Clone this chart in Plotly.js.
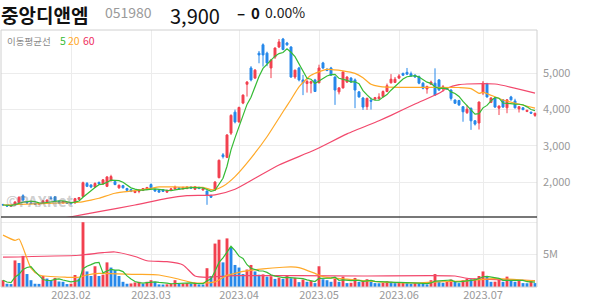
<!DOCTYPE html>
<html><head><meta charset="utf-8">
<script src="https://cdn.plot.ly/plotly-3.0.1.min.js"></script>
<style>html,body{margin:0;padding:0;background:#fff;}#chart{width:594px;height:304px;}</style>
</head><body><div id="chart"></div>
<script>
// trading days (MM/DD, 2023)
const dates = [
'01/05','01/06','01/09','01/10','01/11','01/12','01/13','01/16','01/17','01/18','01/19','01/20','01/25','01/26','01/27','01/30','01/31',
'02/01','02/02','02/03','02/06','02/07','02/08','02/09','02/10','02/13','02/14','02/15','02/16','02/17','02/20','02/21','02/22','02/23','02/24','02/27','02/28',
'03/02','03/03','03/06','03/07','03/08','03/09','03/10','03/13','03/14','03/15','03/16','03/17','03/20','03/21','03/22','03/23','03/24','03/27','03/28','03/29','03/30','03/31',
'04/03','04/04','04/05','04/06','04/07','04/10','04/11','04/12','04/13','04/14','04/17','04/18','04/19','04/20','04/21','04/24','04/25','04/26','04/27','04/28',
'05/02','05/03','05/04','05/08','05/09','05/10','05/11','05/12','05/15','05/16','05/17','05/18','05/19','05/22','05/23','05/24','05/25','05/26','05/30','05/31',
'06/01','06/02','06/05','06/07','06/08','06/09','06/12','06/13','06/14','06/15','06/16','06/19','06/20','06/21','06/22','06/23','06/26','06/27','06/28','06/29','06/30',
'07/03','07/04','07/05','07/06','07/07','07/10','07/11','07/12','07/13','07/14','07/17','07/18','07/19','07/20'];

const openP = [1380,1360,1335,1365,1430,1620,1440,1420,1410,1390,1420,1450,1560,1590,1460,1420,1430,
1420,1420,1520,1600,1960,1920,1860,1990,1950,1880,2040,2010,1840,1900,1820,1790,1710,1740,1770,1790,
1930,1790,1770,1790,1720,1770,1810,1840,1810,1820,1860,1800,1850,1780,1750,1620,1780,2120,2750,2680,3350,3930,
3660,4180,4700,5150,4870,5560,5790,5560,5150,5450,5730,5950,5840,5730,4900,5150,4820,4720,4730,4820,
4740,5290,5110,5150,4900,4490,4600,4760,4870,4820,4490,4320,4080,4260,4290,4300,4360,4500,4740,4750,
4870,5000,5030,4990,4950,4910,4730,4570,4700,4730,4820,4570,4600,4540,4265,4250,4080,3915,4035,3690,3630,
4460,4710,4200,4320,4040,4270,4050,4350,4240,4020,4050,3950,3930,3840];
const highP = [1395,1370,1360,1460,1600,1660,1460,1440,1420,1420,1490,1520,1610,1600,1480,1470,1440,
1430,1560,1580,2010,2000,1930,1990,2010,2080,2160,2200,2040,1930,1920,1840,1800,1770,1790,1830,1860,
1960,1810,1780,1800,1780,1830,1900,1860,1870,1880,1880,1890,1870,1830,1770,1650,2020,2620,2800,3320,3870,4000,
4080,4420,4790,5200,5120,5620,5830,5600,5400,5720,5950,5980,5870,5750,5100,5180,4960,4840,4800,4850,
5240,5320,5150,5180,4920,4620,5050,4920,4900,4860,4510,4350,4330,4330,4350,4450,4530,4720,4980,4900,
4980,5020,5150,5050,4980,4940,4760,4660,4800,5140,4840,4680,4620,4560,4280,4270,4100,4130,4060,3710,4220,
4790,4740,4340,4340,4110,4290,4290,4380,4300,4090,4070,3990,3940,3910];
const lowP = [1355,1320,1320,1355,1420,1470,1400,1390,1370,1380,1410,1440,1520,1440,1400,1410,1400,
1390,1410,1500,1590,1860,1830,1840,1930,1930,1860,2010,1910,1810,1820,1750,1720,1690,1690,1750,1780,
1820,1730,1710,1730,1700,1750,1790,1800,1800,1800,1820,1780,1800,1760,1370,1560,1760,2100,2650,2660,3300,3620,
3640,4150,4360,4780,4850,5280,5190,5200,4870,5400,5700,5640,5760,4880,4850,4780,4400,4470,4450,4490,
4730,5120,5060,4930,4130,4420,4580,4740,4740,4040,4330,3990,3990,4000,4260,4280,4340,4480,4720,4740,
4850,4930,4960,4910,4880,4700,4560,4440,4680,4380,4520,4500,4550,4250,4160,4100,3665,3880,3440,3560,3450,
4400,4330,4180,4050,3850,4050,3900,4250,4030,3920,3980,3930,3880,3800];
const closeP = [1365,1335,1345,1450,1580,1500,1420,1405,1385,1410,1480,1500,1540,1460,1420,1460,1410,
1400,1540,1570,1980,1880,1860,1960,1950,2060,2140,2150,1930,1910,1840,1770,1740,1760,1780,1820,1850,
1840,1750,1720,1740,1770,1810,1860,1810,1850,1860,1830,1870,1820,1810,1640,1580,2000,2600,2700,3300,3840,3660,
4060,4400,4760,4820,5090,5510,5510,5290,5370,5700,5870,5660,5790,4900,5090,4820,4740,4780,4770,4500,
5150,5150,5080,4950,4540,4600,5040,4900,4760,4540,4350,4070,4310,4230,4330,4350,4500,4660,4840,4840,
4930,4950,4980,4930,4900,4730,4590,4640,4760,4400,4540,4630,4570,4310,4175,4130,3940,4010,3690,3600,4210,
4730,4350,4320,4070,4100,4070,4270,4270,4050,4080,4000,3980,3900,3900];
// volume in millions of shares
const volume = [1.05,0.5,0.45,4.1,3.7,4.8,2.0,1.05,0.5,0.48,1.7,1.3,1.05,1.4,0.85,0.8,0.45,
0.5,1.85,1.3,10.0,2.4,1.7,3.2,1.7,1.9,3.8,3.0,2.6,1.7,0.8,0.5,0.55,0.7,0.8,0.5,0.8,
1.05,0.8,0.4,0.38,0.42,0.5,1.05,0.5,0.55,0.6,0.5,0.7,0.4,0.38,2.9,1.7,6.7,7.3,3.8,7.5,6.1,3.4,
3.0,2.0,2.7,3.4,2.4,1.9,1.95,1.6,1.65,1.25,1.45,1.25,1.8,1.35,1.4,0.75,1.15,0.8,0.95,0.6,
3.2,1.2,1.05,0.8,1.3,0.8,1.6,0.6,0.65,1.4,0.8,0.95,1.2,0.8,0.6,0.58,0.65,0.9,0.8,0.6,
0.62,0.64,0.6,0.5,0.6,0.58,0.5,0.4,1.05,2.0,0.8,0.65,0.8,1.15,0.8,0.6,1.05,1.3,1.2,1.3,1.7,
2.4,1.55,0.8,0.82,1.15,0.8,1.6,1.05,0.8,1.05,0.6,0.58,0.95,0.6];

// moving-average lines (bar index -> value)
const ma20Idx = [0,8,14,19,22,24,28,33,37,39,44,50,52,53,55,58,62,66,70,72,74,77,81,85,88,90,92,94,96,105,114,117,119,120,125,133];
const ma20Val = [1365,1395,1420,1440,1500,1550,1690,1760,1826,1865,1860,1855,1790,1790,1880,2150,2660,3250,3940,4280,4630,4950,5110,5070,5000,4880,4700,4640,4620,4616,4610,4580,4450,4478,4265,4040];
const ma60Idx = [14,17,24,33,41,46,53,58,63,69,78,86,94,97,103,109,111,114,116,123,133];
const ma60Val = [985,1040,1180,1365,1550,1622,1645,1800,2102,2470,2890,3330,3694,3840,4155,4450,4590,4690,4707,4707,4455];
const vma20Idx = [0,3,4,7,9,16,19,21,24,33,39,44,48,53,56,58,60,65,70,72,74,78,80,86,94,104,109,116,123,133];
const vma20Val = [8.0,7.2,7.4,2.9,1.85,1.5,1.5,1.85,2.1,1.95,1.85,1.2,0.6,0.8,1.8,2.1,2.4,2.8,3.05,3.1,3.0,2.1,1.6,1.2,0.8,0.65,0.8,0.95,1.3,0.95];
const vma60Idx = [0,19,25,28,33,36,41,45,48,51,58,74,90,113,116,125,133];
const vma60Val = [4.6,4.9,5.3,5.4,4.7,4.05,3.9,3.4,1.7,1.5,1.75,1.75,1.7,1.7,1.35,1.1,1.0];

const monthTicks = ['02/01','03/02','04/03','05/02','06/01','07/03'];
const monthLabels = ['2023.02','2023.03','2023.04','2023.05','2023.06','2023.07'];
const priceTicks = [2000,3000,4000,5000];

const RED = '#f2404f', BLUE = '#2688ea';
const C5 = '#35bb35', C20 = '#ffa928', C60 = '#f2486c';

function rollingMean(arr, n) {
  return arr.map((_, i) => {
    const s = arr.slice(Math.max(0, i - n + 1), i + 1);
    return s.reduce((a, b) => a + b, 0) / s.length;
  });
}
const ma5 = rollingMean(closeP, 5);
const vma5 = rollingMean(volume, 5);
const volColors = volume.map((v, i) => (i === 0 || v >= volume[i - 1]) ? RED : BLUE);
const pick = idx => idx.map(i => dates[i]);

const traces = [
  {type:'candlestick', x:dates, open:openP, high:highP, low:lowP, close:closeP, xaxis:'x', yaxis:'y',
   increasing:{line:{color:RED,width:1}, fillcolor:RED},
   decreasing:{line:{color:BLUE,width:1}, fillcolor:BLUE},
   whiskerwidth:0, hoverinfo:'skip'},
  {type:'scatter', mode:'lines', x:pick(ma60Idx), y:ma60Val, yaxis:'y', line:{color:C60,width:1.2,shape:'spline',smoothing:0.6}, hoverinfo:'skip'},
  {type:'scatter', mode:'lines', x:pick(ma20Idx), y:ma20Val, yaxis:'y', line:{color:C20,width:1.2,shape:'spline',smoothing:0.6}, hoverinfo:'skip'},
  {type:'scatter', mode:'lines', x:dates, y:ma5, yaxis:'y', line:{color:C5,width:1.2}, hoverinfo:'skip'},
  {type:'bar', x:dates, y:volume, yaxis:'y2', marker:{color:volColors}, hoverinfo:'skip'},
  {type:'scatter', mode:'lines', x:pick(vma60Idx), y:vma60Val, yaxis:'y2', line:{color:C60,width:1.2,shape:'spline',smoothing:0.6}, hoverinfo:'skip'},
  {type:'scatter', mode:'lines', x:pick(vma20Idx), y:vma20Val, yaxis:'y2', line:{color:C20,width:1.2,shape:'spline',smoothing:0.6}, hoverinfo:'skip'},
  {type:'scatter', mode:'lines', x:dates, y:vma5, yaxis:'y2', line:{color:C5,width:1.2}, hoverinfo:'skip'}
];

const PX = p => (p - 1) / 536;
const PY = p => (287 - p) / 257;
const split = PY(217);
const KR = '"Noto Sans CJK KR", "Noto Sans", sans-serif';

const ann = (text, px, py, size, color, extra) => Object.assign({
  text, x:PX(px), y:PY(py), xref:'paper', yref:'paper', xanchor:'left', yanchor:'middle',
  showarrow:false, font:{family:KR, size, color}, borderpad:0}, extra || {});

const layout = {
  width:594, height:304,
  margin:{l:1, r:57, t:30, b:17, pad:0},
  paper_bgcolor:'#fff', plot_bgcolor:'#fff',
  showlegend:false, bargap:0.28, boxgap:0.3,
  font:{family:KR, color:'#999', size:11},
  xaxis:{type:'category', categoryorder:'array', categoryarray:dates, range:[-0.5, dates.length - 0.5],
    tickvals:monthTicks, ticktext:monthLabels, showgrid:true, gridcolor:'#ececec', gridwidth:1,
    tickfont:{size:11, color:'#999'}, ticks:'', anchor:'y2', rangeslider:{visible:false},
    zeroline:false, showline:false, fixedrange:true},
  yaxis:{domain:[split, 1], side:'right', range:[1033, 6199], tickvals:priceTicks, tickformat:',d',
    showgrid:true, gridcolor:'#ececec', zeroline:false, tickfont:{size:11, color:'#999'}, ticks:'',
    ticklabelstandoff:5, anchor:'x', fixedrange:true},
  yaxis2:{domain:[0, split], side:'right', range:[0, 10.8], tickvals:[5, 10], ticktext:['5M',''],
    showgrid:true, gridcolor:'#ececec', zeroline:false, tickfont:{size:11, color:'#999'}, ticks:'',
    ticklabelstandoff:5, anchor:'x', fixedrange:true},
  shapes:[
    {type:'rect', xref:'paper', yref:'paper', x0:0, x1:1, y0:0, y1:1, line:{color:'#d0d0d0', width:1}},
    {type:'line', xref:'paper', yref:'paper', x0:0, x1:1, y0:split, y1:split, line:{color:'#4a4a4a', width:1.5}}
  ],
  annotations:[
    ann('<b>중앙디앤엠</b>', 0, 0.5, 19, '#111', {yanchor:'top'}),
    ann('051980', 104, 12, 14, '#9a9a9a'),
    ann('3,900', 169, 0.5, 20, '#111', {yanchor:'top'}),
    ann('<b>–</b>', 236, 12, 15, '#111'),
    ann('<b>0</b>', 250, 12, 15, '#111'),
    ann('0.00%', 264, 12, 14, '#222'),
    ann('이동평균선', 6, 41, 9.5, '#8a8a8a'),
    ann('5', 59, 41, 10.5, C5),
    ann('20', 67, 41, 10.5, C20),
    ann('60', 82, 41, 10.5, '#ee2e5e'),
    ann('<b>©PAXNet</b>', 5, 200, 15, 'rgba(130,130,130,0.4)')
  ]
};

Plotly.newPlot('chart', traces, layout, {displayModeBar:false, staticPlot:true});
</script>
</body></html>
